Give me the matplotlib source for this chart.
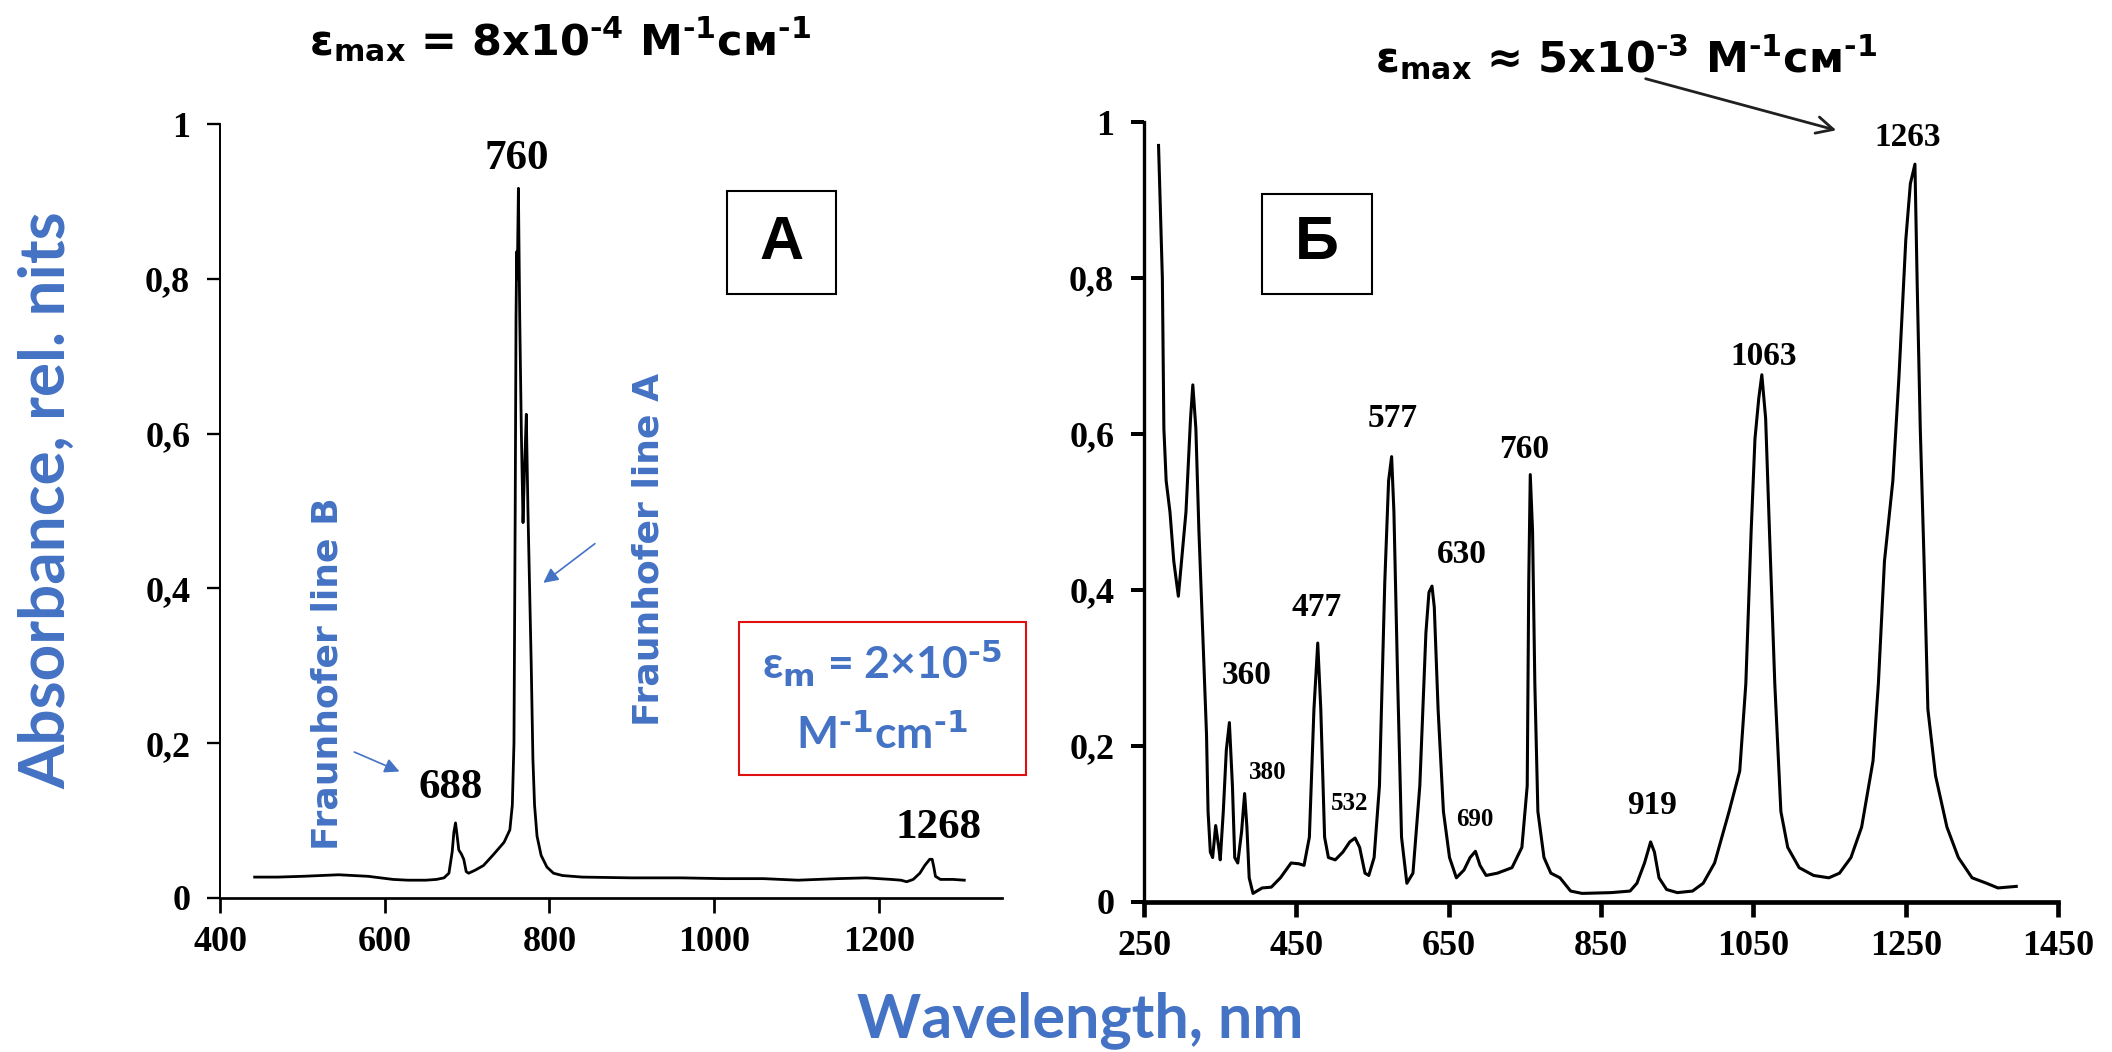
import matplotlib
matplotlib.use('Agg')

import matplotlib.pyplot as plt
from matplotlib.patches import Rectangle, FancyArrowPatch

plt.rcParams['mathtext.fontset'] = 'custom'
plt.rcParams['mathtext.rm'] = 'DejaVu Sans:bold'
plt.rcParams['mathtext.bf'] = 'DejaVu Sans:bold'
plt.rcParams['mathtext.it'] = 'DejaVu Sans:bold'

SERIF = ['Liberation Serif', 'DejaVu Serif']
SANS = ['DejaVu Sans']
BLUE = '#4472C4'

# panel A: absorption spectrum
wl_a = [442, 470, 500, 544, 580, 610, 628, 650, 663, 672, 678, 682, 684, 686,
        688, 690, 693, 696, 699, 702, 710, 720, 732, 745, 752, 755, 757, 758.5,
        759.5, 760.3, 761, 762.4, 764, 766, 768, 770, 772, 774, 776, 778, 780,
        782, 785, 790, 797, 805, 816, 840, 900, 960, 1011, 1060, 1102, 1150,
        1185, 1215, 1227, 1234, 1242, 1250, 1256, 1262, 1265, 1267, 1269, 1275,
        1290, 1304]
abs_a = [0.027, 0.027, 0.028, 0.030, 0.028, 0.024, 0.023, 0.023, 0.024, 0.026,
         0.032, 0.060, 0.085, 0.097, 0.080, 0.062, 0.057, 0.050, 0.034, 0.032,
         0.036, 0.042, 0.056, 0.072, 0.088, 0.120, 0.200, 0.500, 0.750, 0.835,
         0.800, 0.917, 0.750, 0.600, 0.485, 0.560, 0.625, 0.500, 0.400, 0.300,
         0.180, 0.120, 0.080, 0.055, 0.040, 0.032, 0.029, 0.027, 0.026, 0.026,
         0.025, 0.025, 0.023, 0.025, 0.026, 0.024, 0.023, 0.021, 0.024, 0.032,
         0.042, 0.050, 0.050, 0.040, 0.028, 0.024, 0.024, 0.023]
peaks_a = ['760', '688', '1268']
peaks_a_xy = [(760, 0.955), (680, 0.142), (1273, 0.09)]

# panel B
wl_b = [269, 274, 276, 279, 284, 289, 295, 301, 305, 311, 314, 318, 322, 327,
        332, 334, 337, 340, 344, 348, 350, 354, 358, 362, 366, 369, 373, 378,
        382, 385, 388, 393, 405, 417, 429, 443, 453, 460, 467, 473, 478, 482,
        487, 492, 501, 511, 520, 527, 533, 540, 545, 552, 559, 566, 571, 575,
        578, 583, 588, 595, 603, 612, 620, 624, 628, 631, 636, 643, 651, 660,
        670, 678, 685, 691, 699, 714, 733, 746, 753, 755, 757, 760, 763, 767,
        775, 784, 796, 810, 825, 863, 888, 897, 907, 915, 920, 926, 936, 950,
        970, 984, 999, 1018, 1032, 1040, 1047, 1052, 1057, 1061, 1066, 1071,
        1078, 1086, 1095, 1110, 1129, 1149, 1163, 1178, 1192, 1207, 1214, 1222,
        1233, 1241, 1250, 1256, 1262, 1265, 1269, 1274, 1279, 1289, 1304, 1319,
        1337, 1356, 1371, 1395]
abs_b = [0.970, 0.800, 0.607, 0.540, 0.500, 0.437, 0.392, 0.456, 0.500, 0.620,
         0.663, 0.607, 0.476, 0.345, 0.214, 0.116, 0.064, 0.057, 0.098, 0.070,
         0.054, 0.116, 0.195, 0.230, 0.149, 0.057, 0.050, 0.090, 0.139, 0.096,
         0.031, 0.011, 0.018, 0.019, 0.031, 0.050, 0.049, 0.047, 0.083, 0.247,
         0.332, 0.247, 0.083, 0.057, 0.054, 0.064, 0.077, 0.082, 0.070, 0.037,
         0.034, 0.057, 0.149, 0.410, 0.540, 0.571, 0.500, 0.280, 0.083, 0.024,
         0.037, 0.149, 0.345, 0.397, 0.405, 0.378, 0.247, 0.116, 0.057, 0.031,
         0.041, 0.057, 0.065, 0.047, 0.034, 0.037, 0.044, 0.070, 0.149, 0.410,
         0.548, 0.476, 0.280, 0.116, 0.057, 0.037, 0.031, 0.014, 0.011, 0.012,
         0.014, 0.024, 0.050, 0.077, 0.064, 0.031, 0.016, 0.012, 0.014, 0.024,
         0.050, 0.116, 0.168, 0.280, 0.476, 0.594, 0.646, 0.676, 0.620, 0.476,
         0.280, 0.116, 0.070, 0.044, 0.034, 0.031, 0.037, 0.057, 0.096, 0.181,
         0.280, 0.437, 0.540, 0.673, 0.849, 0.921, 0.946, 0.790, 0.607, 0.437,
         0.247, 0.162, 0.096, 0.057, 0.031, 0.024, 0.018, 0.020]
peaks_b = ['1263', '1063', '577', '760', '630', '477', '360', '919',
           '380', '532', '690']
peaks_b_xy = [(1252, 0.98), (1064, 0.70), (576, 0.62), (749, 0.58),
              (667, 0.445), (477, 0.378), (385, 0.29), (917, 0.124),
              (412, 0.166), (520, 0.126), (684, 0.106)]
peaks_b_size = [24, 24, 24, 24, 24, 24, 24, 24, 18, 18, 18]

y_ticks = [0, 0.2, 0.4, 0.6, 0.8, 1]
y_labels = ['0', '0,2', '0,4', '0,6', '0,8', '1']
x_ticks_a = [400, 600, 800, 1000, 1200]
x_ticks_b = [250, 450, 650, 850, 1050, 1250, 1450]

fig = plt.figure(figsize=(21.12, 10.52), dpi=100)
ax1 = fig.add_axes([0.1042, 0.1464, 0.3703, 0.7357])
ax2 = fig.add_axes([0.5417, 0.1426, 0.4328, 0.7414])


def style(ax, xt, lw):
    for s in ['top', 'right']:
        ax.spines[s].set_visible(False)
    ax.spines['left'].set_linewidth(lw)
    ax.spines['bottom'].set_linewidth(lw * 1.4)
    ax.set_ylim(0, 1)
    ax.set_yticks(y_ticks)
    ax.set_yticklabels(y_labels, family=SERIF, fontweight='bold', fontsize=26)
    ax.set_xticks(xt)
    ax.set_xticklabels([str(v) for v in xt], family=SERIF, fontweight='bold', fontsize=26)
    ax.tick_params(axis='y', length=9.5, width=lw * 1.2, pad=12)
    ax.tick_params(axis='x', length=10.5, width=lw * 1.4, pad=10)


ax1.plot(wl_a, abs_a, color='black', lw=2.0)
ax1.set_xlim(400, 1350)
style(ax1, x_ticks_a, 1.4)
for t, (x, y) in zip(peaks_a, peaks_a_xy):
    ax1.text(x, y, t, ha='center', va='center', family=SERIF, fontweight='bold', fontsize=31)

ax1.add_patch(Rectangle((1016, 0.78), 132, 0.133, fill=False, ec='black', lw=1.5))
ax1.text(1082, 0.846, 'A', ha='center', va='center', family=['Liberation Sans', 'DejaVu Sans'],
         fontweight='bold', fontsize=44)

ax1.text(920, 0.45, 'Fraunhofer line A', rotation=90, ha='center', va='center',
         color=BLUE, fontsize=26, fontweight='bold', family=SANS)
ax1.text(530, 0.29, 'Fraunhofer line B', rotation=90, ha='center', va='center',
         color=BLUE, fontsize=26, fontweight='bold', family=SANS)
ax1.annotate('', xy=(790, 0.405), xytext=(858, 0.46),
             arrowprops=dict(arrowstyle='-|>', color=BLUE, lw=1.2, mutation_scale=22))
ax1.annotate('', xy=(621, 0.162), xytext=(560, 0.19),
             arrowprops=dict(arrowstyle='-|>', color=BLUE, lw=1.2, mutation_scale=22))

ax2.plot(wl_b, abs_b, color='black', lw=2.2)
ax2.set_xlim(250, 1450)
style(ax2, x_ticks_b, 2.4)
for t, (x, y), fs in zip(peaks_b, peaks_b_xy, peaks_b_size):
    ax2.text(x, y, t, ha='center', va='center', family=SERIF, fontweight='bold', fontsize=fs)

ax2.add_patch(Rectangle((405, 0.78), 144, 0.128, fill=False, ec='black', lw=1.5))
ax2.text(477, 0.844, 'Б', ha='center', va='center', family=['Liberation Sans', 'DejaVu Sans'],
         fontweight='bold', fontsize=44)

# red box with the molar coefficient
fig.patches.append(Rectangle((739 / 2112, 1 - 775 / 1052), 287 / 2112, 153 / 1052,
                             transform=fig.transFigure, fill=False, ec='#E01010', lw=1.5))
fig.text(882 / 2112, 1 - 663 / 1052, 'ε$_\\mathbf{m}$ = 2×10$^{\\mathbf{‐5}}$',
         ha='center', va='center', color=BLUE, fontsize=32, fontweight='bold',
         family=['Lato', 'DejaVu Sans'], math_fontfamily='dejavusans')
fig.text(882 / 2112, 1 - 734 / 1052, 'M$^{\\mathbf{‐1}}$cm$^{\\mathbf{‐1}}$',
         ha='center', va='center', color=BLUE, fontsize=32, fontweight='bold',
         family=['Lato', 'DejaVu Sans'], math_fontfamily='dejavusans')

# titles
fig.text(560 / 2112, 1 - 40 / 1052,
         'ε$_{\\mathrm{max}}$ = 8x10$^{\\mathrm{‐4}}$ M$^{\\mathrm{‐1}}$см$^{\\mathrm{‐1}}$',
         ha='center', va='center', fontsize=31, fontweight='bold', family=SANS)
fig.text(1626 / 2112, 1 - 57 / 1052,
         'ε$_{\\mathrm{max}}$ ≈ 5x10$^{\\mathrm{‐3}}$ M$^{\\mathrm{‐1}}$см$^{\\mathrm{‐1}}$',
         ha='center', va='center', fontsize=31, fontweight='bold', family=SANS)
fig.patches.append(FancyArrowPatch(
    (1643 / 2112, 1 - 78 / 1052), (1839 / 2112, 1 - 131 / 1052),
    transform=fig.transFigure, arrowstyle='->', mutation_scale=30, lw=2, color='#202020'))

fig.text(47 / 2112, 1 - 500 / 1052, 'Absorbance, rel. nits', rotation=90,
         ha='center', va='center', color=BLUE, fontsize=46, fontweight='bold',
         family=['Lato', 'DejaVu Sans'])
fig.text(1080 / 2112, 1 - 1020 / 1052, 'Wavelength, nm',
         ha='center', va='center', color=BLUE, fontsize=44, fontweight='bold',
         family=['Lato', 'DejaVu Sans'])

fig.savefig('out.png', dpi=100, facecolor='white')
